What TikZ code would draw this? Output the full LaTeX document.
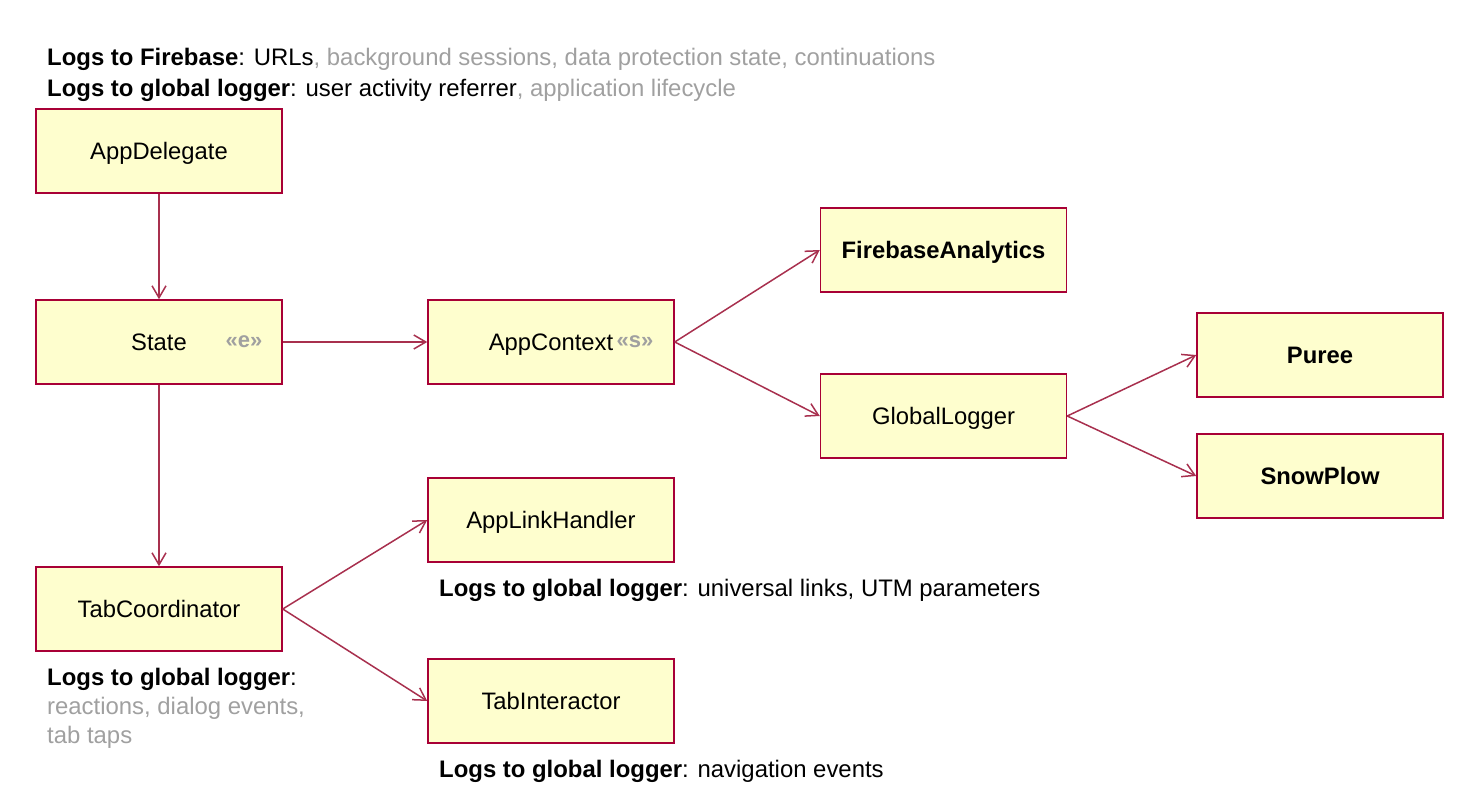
\documentclass[tikz,border=0pt]{standalone}
\usepackage{fontspec}
\setmainfont{Liberation Sans}
\usetikzlibrary{arrows.meta}
\definecolor{umlred}{HTML}{A80036}
\definecolor{umlfill}{HTML}{FEFECE}
\definecolor{umlgray}{HTML}{A0A0A0}
\definecolor{arrowred}{HTML}{A8304E}
\begin{document}
\begin{tikzpicture}[x=1pt,y=-1pt,
  box/.style={draw=umlred, fill=umlfill, line width=1.5pt, minimum width=246pt, minimum height=84pt, inner sep=0pt, text height=17pt, text depth=0pt, font=\fontsize{23.8}{28}\selectfont},
  boxtxt/.style={inner sep=0pt, text height=17pt, text depth=0pt, font=\fontsize{23.8}{28}\selectfont},
  note/.style={anchor=base west, inner sep=0pt, font=\fontsize{23.9}{28}\selectfont},
  stereo/.style={inner sep=0pt, text=umlgray, font=\fontsize{22}{26}\selectfont\bfseries},
  conn/.style={draw=arrowred, line width=1.5pt, -{Straight Barb[length=12pt,width=14pt,line width=1.5pt]}}
]
\useasboundingbox (0,0) rectangle (1474,810);

% boxes
\node[box] (appdelegate) at (159,151) {AppDelegate};
\node[box] (state) at (159,342) {};
\node[boxtxt] (statetxt) at (159,342) {State};
\node[stereo] (statest) at (244,342) {«e»};
\node[box] (tabcoord) at (159,609) {TabCoordinator};
\node[box] (appcontext) at (551,342) {};
\node[boxtxt] (appctxtxt) at (551,342) {AppContext};
\node[stereo] (appctxst) at (635,342) {«s»};
\node[box] (applink) at (551,520) {AppLinkHandler};
\node[box] (tabinter) at (551,701) {TabInteractor};
\node[box, font=\fontsize{23.8}{28}\selectfont\bfseries] (firebase) at (943.5,250) {FirebaseAnalytics};
\node[box] (globallogger) at (943.5,416) {GlobalLogger};
\node[box, font=\fontsize{23.8}{28}\selectfont\bfseries] (puree) at (1320,355) {Puree};
\node[box, font=\fontsize{23.8}{28}\selectfont\bfseries] (snowplow) at (1320,476) {SnowPlow};

% connectors
\draw[conn] (appdelegate.south) -- (state.north);
\draw[conn] (state.south) -- (tabcoord.north);
\draw[conn] (state.east) -- (appcontext.west);
\draw[conn] (appcontext.east) -- (firebase.west);
\draw[conn] (appcontext.east) -- (globallogger.west);
\draw[conn] (tabcoord.east) -- (applink.west);
\draw[conn] (tabcoord.east) -- (tabinter.west);
\draw[conn] (globallogger.east) -- (puree.west);
\draw[conn] (globallogger.east) -- (snowplow.west);

% notes
\node[note] (top1) at (47,65.5) {\textbf{Logs to Firebase}: URLs{\color{umlgray}, background sessions, data protection state, continuations}};
\node[note] (top2) at (47,96.5) {\textbf{Logs to global logger}: user activity referrer{\color{umlgray}, application lifecycle}};
\node[note] (tc1) at (47,685.5) {\textbf{Logs to global logger}:};
\node[note, text=umlgray] (tc2) at (47,714) {reactions, dialog events,};
\node[note, text=umlgray] (tc3) at (47,743) {tab taps};
\node[note] (al1) at (439,596) {\textbf{Logs to global logger}: universal links, UTM parameters};
\node[note] (ti1) at (439,777) {\textbf{Logs to global logger}: navigation events};
\end{tikzpicture}
\end{document}
